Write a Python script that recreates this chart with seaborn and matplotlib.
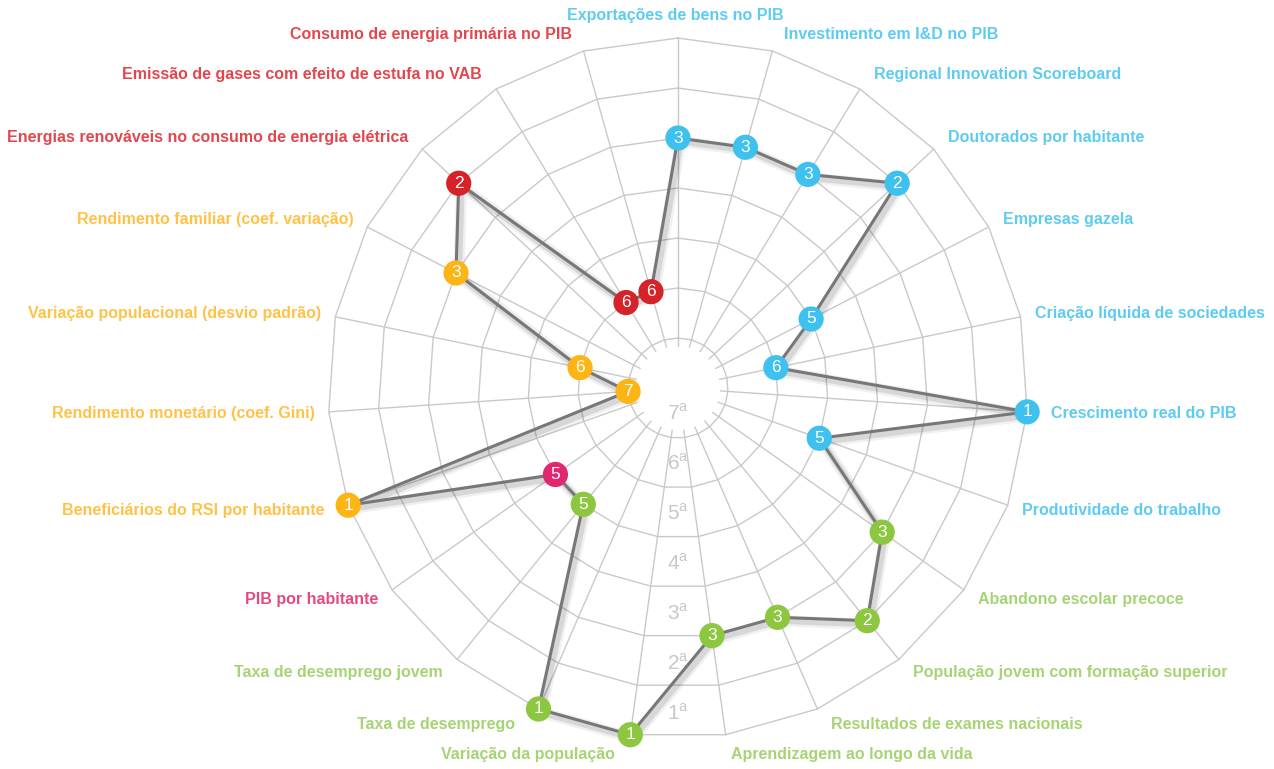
import numpy as np
import pandas as pd
import matplotlib
matplotlib.use('Agg')
import matplotlib.pyplot as plt
import matplotlib.patheffects as pe
import seaborn as sns

indicators = [
    'Exportações de bens no PIB', 'Investimento em I&D no PIB', 'Regional Innovation Scoreboard',
    'Doutorados por habitante', 'Empresas gazela', 'Criação líquida de sociedades',
    'Crescimento real do PIB', 'Produtividade do trabalho',
    'Abandono escolar precoce', 'População jovem com formação superior', 'Resultados de exames nacionais',
    'Aprendizagem ao longo da vida', 'Variação da população', 'Taxa de desemprego', 'Taxa de desemprego jovem',
    'PIB por habitante',
    'Beneficiários do RSI por habitante', 'Rendimento monetário (coef. Gini)',
    'Variação populacional (desvio padrão)', 'Rendimento familiar (coef. variação)',
    'Energias renováveis no consumo de energia elétrica', 'Emissão de gases com efeito de estufa no VAB',
    'Consumo de energia primária no PIB',
]
ranks = [3, 3, 3, 2, 5, 6, 1, 5,
         3, 2, 3, 3, 1, 1, 5,
         5,
         1, 7, 6, 3,
         2, 6, 6]
groups = ['comp'] * 8 + ['coesao'] * 7 + ['pib'] + ['rend'] * 4 + ['amb'] * 3
rank_labels = ['1', '2', '3', '4', '5', '6', '7']

marker_colors = {'comp': '#3EC1EF', 'coesao': '#8DC63F', 'pib': '#E0276F', 'rend': '#FDB515', 'amb': '#D62229'}
label_colors = {'comp': '#5DCBF2', 'coesao': '#A6D475', 'pib': '#E5497F', 'rend': '#FFC247', 'amb': '#E2474E'}

n = len(indicators)
df = pd.DataFrame({'indicator': indicators, 'rank': ranks, 'group': groups})
df['theta'] = np.arange(n) * 2 * np.pi / n
df['r'] = 8 - df['rank']

sns.set_theme(style='white')
plt.rcParams['font.family'] = ['Liberation Sans', 'DejaVu Sans']
plt.rcParams['mathtext.fontset'] = 'custom'
plt.rcParams['mathtext.rm'] = 'Liberation Sans'

fig = plt.figure(figsize=(12.74, 7.69), dpi=100)
ax = fig.add_axes([0.2339, 0.0013, 0.5965, 0.9883], projection='polar')
ax.set_theta_zero_location('N')
ax.set_theta_direction(-1)
ax.set_ylim(0, 7.6)
ax.axis('off')

grid_c = '#C9C9C9'
closed_t = np.append(df['theta'].values, df['theta'].values[0])
for ring in range(1, 8):
    ax.plot(closed_t, np.full(n + 1, ring), color=grid_c, lw=1, zorder=1)
for t in df['theta']:
    ax.plot([t, t], [0.85, 7], color=grid_c, lw=1, zorder=1)

# rank labels inside each band, down the bottom
for i, lab in enumerate(rank_labels):
    ax.text(np.pi, 7 - i - 0.5, '$' + lab + '^{\\mathrm{a}}$', ha='center', va='center',
            fontsize=15, color='#C8C8C8', zorder=2)

# data line (closed)
line_df = pd.concat([df, df.iloc[:1]], ignore_index=True)
shadow = [pe.SimpleLineShadow(offset=(2, -2.5), shadow_color='#000000', alpha=0.06, linewidth=8),
          pe.SimpleLineShadow(offset=(2, -2.5), shadow_color='#000000', alpha=0.10, linewidth=4.5),
          pe.Normal()]
sns.lineplot(data=line_df, x='theta', y='r', sort=False, ax=ax, color='#777777', lw=2.2, zorder=3,
             estimator=None, path_effects=shadow)

sns.scatterplot(data=df, x='theta', y='r', hue='group', palette=marker_colors, s=330,
                edgecolor='none', legend=False, ax=ax, zorder=4, clip_on=False)
for t, r, rk in zip(df['theta'], df['r'], df['rank']):
    ax.text(t, r, str(rk), ha='center', va='center', color='white', fontsize=12.5, zorder=5)

# indicator labels around the outer ring
for t, lab, g, rk in zip(df['theta'], df['indicator'], df['group'], df['rank']):
    s, c = np.sin(t), np.cos(t)
    if abs(s) < 0.05:
        ha, dx, dy = 'center', -3, 23
    else:
        ha = 'left' if s > 0 else 'right'
        pad = 14 * min(1, 3 * abs(s)) + (10 if rk == 1 else 0)
        dx = pad * np.sign(s)
        dy = 17 * c * (1.2 if abs(c) > 0.98 else 1)
    ax.annotate(lab, xy=(t, 7), xytext=(dx, dy), textcoords='offset pixels', ha=ha, va='center',
                fontsize=11.5, fontweight='bold', color=label_colors[g], zorder=5)

ax.set_xlabel('')
ax.set_ylabel('')
fig.savefig('out.png', dpi=100)
